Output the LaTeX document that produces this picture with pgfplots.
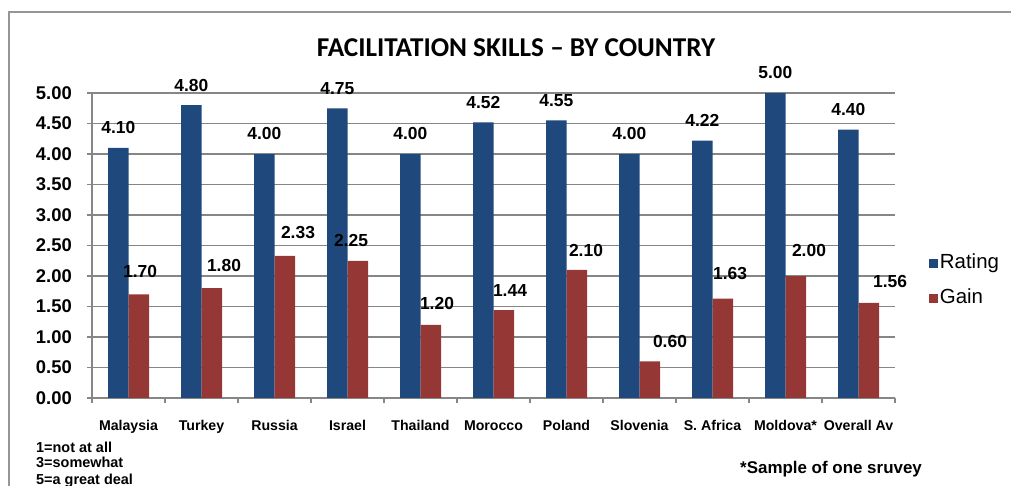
\documentclass[border=0pt]{standalone}
\usepackage{pgfplots}
\usepackage{pgfplotstable}
\pgfplotsset{compat=1.18}
\usepackage{fontspec}
\setmainfont{Liberation Sans}
\newfontfamily\titlefont{Carlito}
\definecolor{rating}{RGB}{31,73,125}
\definecolor{gain}{RGB}{149,55,53}
\definecolor{gridgray}{RGB}{134,134,134}
\definecolor{framegray}{RGB}{150,150,150}
\newcommand\tickfont{\bfseries\fontsize{18.5}{20}\selectfont}
\newcommand\xlabfont{\bfseries\fontsize{14.2}{16}\selectfont}
\newcommand\labfont{\bfseries\fontsize{17.5}{19}\selectfont}
\newcommand\legfont{\fontsize{20.5}{22}\selectfont}
\newcommand\notefont{\bfseries\fontsize{14.5}{16}\selectfont}

\pgfplotstableread{
x y
0 4.10
1 4.80
2 4.00
3 4.75
4 4.00
5 4.52
6 4.55
7 4.00
8 4.22
9 5.00
10 4.40
}\ratingdata
\pgfplotstableread{
x y
0 1.70
1 1.80
2 2.33
3 2.25
4 1.20
5 1.44
6 2.10
7 0.60
8 1.63
9 2.00
10 1.56
}\gaindata
\pgfplotstableread{
x y lab
-0.140 4.428 4.10
0.860 5.128 4.80
1.860 4.328 4.00
2.860 5.078 4.75
3.860 4.328 4.00
4.860 4.848 4.52
5.860 4.878 4.55
6.860 4.328 4.00
7.860 4.548 4.22
8.860 5.328 5.00
9.860 4.728 4.40
}\ratinglabels
\pgfplotstableread{
x y lab
0.158 2.066 1.70
1.308 2.164 1.80
2.322 2.705 2.33
3.048 2.574 2.25
4.226 1.557 1.20
5.226 1.770 1.44
6.267 2.426 2.10
7.418 0.934 0.60
8.240 2.049 1.63
9.322 2.410 2.00
10.432 1.902 1.56
}\gainlabels

\begin{document}
\begin{tikzpicture}
\useasboundingbox (0bp,0bp) rectangle (1011bp,486bp);
\draw[framegray, line width=1.5bp] (9bp,-2bp) -- (9bp,474bp) -- (1015bp,474bp);
\node[anchor=base, font=\titlefont\bfseries\fontsize{27.3}{29}\selectfont] at (516bp,429.5bp) {FACILITATION SKILLS – BY COUNTRY};
\begin{axis}[
  at={(92bp,88bp)}, anchor=south west,
  scale only axis, width=803bp, height=305bp,
  xmin=-0.5, xmax=10.5, ymin=0, ymax=5,
  clip=false,
  axis x line*=bottom, axis y line*=left,
  axis line style={gridgray, line width=1.3bp},
  ymajorgrids, grid style={gridgray, line width=1.3bp},
  xtick={-0.5,0.5,...,10.5},
  xticklabels={Malaysia,Turkey,Russia,Israel,Thailand,Morocco,Poland,Slovenia,S. Africa,Moldova*,Overall Av},
  xticklabel style={font=\xlabfont, anchor=base, xshift=36.5bp, yshift=-27bp},
  ytick={0,0.5,...,5},
  yticklabel style={font=\tickfont, anchor=east, inner sep=0pt, xshift=-15bp},
  /pgf/number format/assume math mode=true,
  /pgf/number format/.cd, fixed, fixed zerofill, precision=2, /pgfplots/.cd,
  tick align=outside, major tick length=5bp,
  tick style={gridgray, line width=1.3bp},
  legend image code/.code={\fill[#1] (0bp,-4.75bp) rectangle (9.5bp,4.75bp);},
  legend style={at={(1.042,0.3836)}, anchor=west, draw=none, fill=none, font=\legfont,
    inner sep=0pt, row sep=13bp, nodes={inner sep=1.5bp, text height=14.5bp, text depth=4.5bp}},
  legend cell align=left,
]
\addplot[ybar, bar width=20.5bp, bar shift=-10.25bp, fill=rating, draw=none] table[x=x,y=y] {\ratingdata};
\addlegendentry{Rating}
\addplot[ybar, bar width=20.5bp, bar shift=10.25bp, fill=gain, draw=none] table[x=x,y=y] {\gaindata};
\addlegendentry{Gain}
\addplot[forget plot, draw=none, mark=none, nodes near coords, point meta=explicit symbolic,
  every node near coord/.append style={anchor=center, font=\labfont}] table[x=x,y=y,meta=lab] {\ratinglabels};
\addplot[forget plot, draw=none, mark=none, nodes near coords, point meta=explicit symbolic,
  every node near coord/.append style={anchor=center, font=\labfont}] table[x=x,y=y,meta=lab] {\gainlabels};
\end{axis}
\node[anchor=base west, font=\notefont, inner sep=0pt] at (36bp,34bp) {1=not at all};
\node[anchor=base west, font=\notefont, inner sep=0pt] at (36bp,19bp) {3=somewhat};
\node[anchor=base west, font=\notefont, inner sep=0pt] at (36bp,2bp) {5=a great deal};
\node[anchor=base west, font=\bfseries\fontsize{17}{18}\selectfont, inner sep=0pt] at (740bp,13bp) {*Sample of one sruvey};
\end{tikzpicture}
\end{document}
